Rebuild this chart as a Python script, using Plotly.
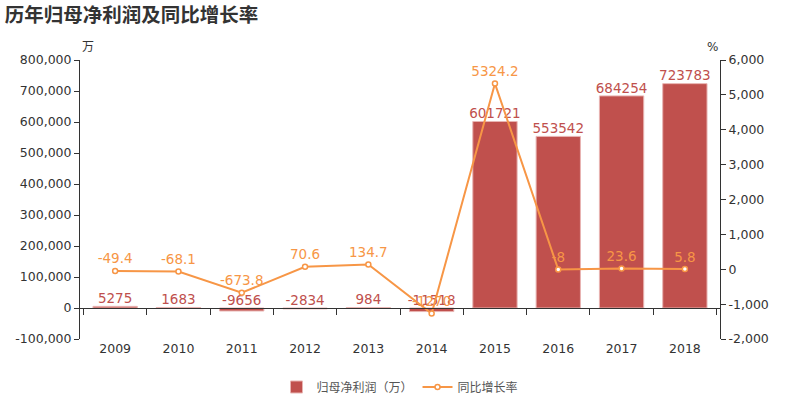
import plotly.graph_objs as go

years = ['2009', '2010', '2011', '2012', '2013', '2014', '2015', '2016', '2017', '2018']
profit = [5275, 1683, -9656, -2834, 984, -11518, 601721, 553542, 684254, 723783]
growth = [-49.4, -68.1, -673.8, 70.6, 134.7, -1270, 5324.2, -8, 23.6, 5.8]

left_ticks = [-100000, 0, 100000, 200000, 300000, 400000, 500000, 600000, 700000, 800000]
right_ticks = [-2000, -1000, 0, 1000, 2000, 3000, 4000, 5000, 6000]

bar_color = '#c0504d'
line_color = '#f79646'
font_fam = 'DejaVu Sans, Noto Sans CJK SC'

bars = go.Bar(x=years, y=profit, name='归母净利润（万）', width=0.7,
              marker=dict(color=bar_color, line=dict(color='#e8b4b2', width=1)))
bar_labels = go.Scatter(x=years, y=[max(v, 0) for v in profit], mode='text',
                        text=[str(v) for v in profit], textposition='top center',
                        textfont=dict(color=bar_color, size=13.5), showlegend=False,
                        hoverinfo='skip')
line = go.Scatter(x=years, y=growth, name='同比增长率', mode='lines+markers+text',
                  text=[str(v) for v in growth], textposition='top center',
                  textfont=dict(color=line_color, size=13.5),
                  line=dict(color=line_color, width=2),
                  marker=dict(size=5, color='white', line=dict(color=line_color, width=1.5)),
                  xaxis='x2', yaxis='y2')

layout = go.Layout(
    width=800, height=400,
    margin=dict(l=80, r=80, t=60, b=61, autoexpand=False),
    plot_bgcolor='white', paper_bgcolor='white',
    font=dict(family=font_fam, size=12.5, color='#333'),
    title=dict(text='<b>历年归母净利润及同比增长率</b>', x=0.006, xanchor='left',
               y=0.962, yref='container', yanchor='middle',
               font=dict(size=19.5, color='#333', family='Noto Sans CJK SC')),
    xaxis=dict(type='category', showline=False, ticks='', showgrid=False, zeroline=False),
    xaxis2=dict(type='category', overlaying='x', matches='x', anchor='free', position=0.111,
                showline=True, linecolor='#333', ticks='outside', tickson='boundaries',
                ticklen=6, tickcolor='#333', showticklabels=False, showgrid=False),
    yaxis=dict(range=[-100000, 800000], tickvals=left_ticks,
               ticktext=[f'{v:,}' for v in left_ticks], showgrid=False,
               showline=True, linecolor='#333', ticks='outside', ticklen=5, tickcolor='#333',
               zeroline=False),
    yaxis2=dict(range=[-2000, 6000], tickvals=right_ticks,
                ticktext=[f'{v:,}' for v in right_ticks], overlaying='y', side='right',
                showgrid=False, showline=True, linecolor='#333', ticks='outside', ticklen=5,
                tickcolor='#333', zeroline=False),
    legend=dict(orientation='h', x=0.5, xanchor='center', y=-0.172, yanchor='middle',
                font=dict(size=12, color='#555')),
    annotations=[
        dict(text='万', xref='paper', yref='paper', x=0, y=1.079, showarrow=False,
             font=dict(size=12, color='#333')),
        dict(text='%', xref='paper', yref='paper', x=1, y=1.079, showarrow=False,
             font=dict(size=12, color='#333')),
    ],
)

fig = go.Figure(data=[bars, bar_labels, line], layout=layout)
fig.write_html("out.html", config={'displayModeBar': False},
               post_script="document.body.style.margin='0';")
